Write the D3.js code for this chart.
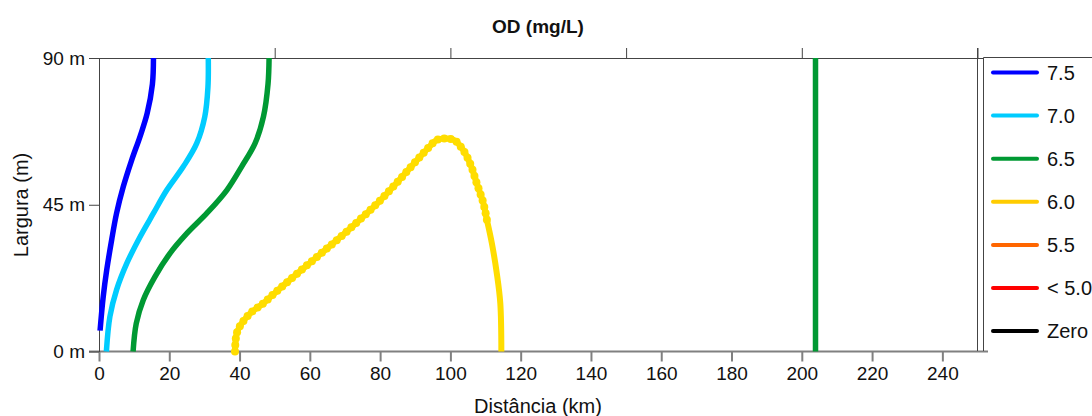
<!DOCTYPE html>
<html>
<head>
<meta charset="utf-8">
<script src="https://cdn.jsdelivr.net/npm/d3@7/dist/d3.min.js"></script>
<style>
  html, body { margin: 0; padding: 0; background: #fff; }
  svg { display: block; }
  text { font-family: "Liberation Sans", Arial, sans-serif; fill: #111; }
</style>
</head>
<body>
<svg id="chart" width="1092" height="416"></svg>
<script>
// Dissolved-oxygen isolines along the river: [distance km, width m]
const od75 = [[15.5,90],[15.2,82],[13.7,73],[11.7,66],[9.3,58.7],[6.9,50.5],[5.0,42.4],[3.6,34.2],[2.2,25.0],[1.2,16.8],[0.3,6.4]];
const od70 = [[31.1,90],[31.0,81],[30.1,72],[27.8,63.8],[24.0,56.7],[19.3,49.5],[15.5,42.4],[11.7,35.2],[7.9,27.0],[5.0,18.9],[3.1,10.7],[2.1,0]];
const od65 = [[48.4,90],[48.1,82],[46.8,72],[44.4,63.8],[40.6,56.7],[36.4,49.5],[30.7,42.4],[25.0,36.2],[20.2,30.1],[15.9,22.9],[12.6,15.8],[10.6,8.6],[9.7,0]];
const od65far = [[203.9,90],[203.9,0]];
const od60 = [[38.7,0],[39.2,5.6],[40.6,8.6],[43.0,11.7],[46.8,14.8],[50.6,18.5],[56.3,23.8],[62.9,29.8],[68.6,35.0],[74.3,40.5],[80.0,46.3],[84.8,51.8],[89.5,57.5],[94.2,63.0],[96.2,64.9],[100.9,64.9],[103.3,62.3],[105.6,57.7],[107.5,51.6],[109.4,45.4],[110.4,40.3]];
const od60tail = [[110.4,40.3],[111.8,33.2],[113.2,24.0],[114.2,14.8],[114.5,0]];

// Legend entries
const legendLabels = ["7.5", "7.0", "6.5", "6.0", "5.5", "< 5.0", "Zero"];
const legendColors = ["#0000ff", "#00ccff", "#009933", "#ffcc00", "#ff6600", "#ff0000", "#000000"];

// Axis ticks
const xTicks = d3.range(0, 241, 20);
const xTopTicks = [50, 100, 150, 200, 250];
const yTicks = [0, 45, 90];

const svg = d3.select("#chart");
const x = d3.scaleLinear().domain([0, 250]).range([99, 977.5]);
const y = d3.scaleLinear().domain([0, 90]).range([351.5, 58]);

const line = d3.line().x(d => x(d[0])).y(d => y(d[1])).curve(d3.curveCatmullRom.alpha(0.5));
const font = "Liberation Sans, Arial, sans-serif";

// Bottom axis
const gx = svg.append("g").attr("transform", "translate(0,351.5)")
  .call(d3.axisBottom(x).tickValues(xTicks).tickSize(10).tickSizeOuter(0).tickPadding(5));
gx.select(".domain").remove();
gx.selectAll(".tick line").attr("stroke", "#808080").attr("stroke-width", 2);
gx.selectAll(".tick text").attr("font-size", 19).attr("fill", "#111").attr("font-family", font);
svg.append("line").attr("x1", 89).attr("x2", 988).attr("y1", 351.5).attr("y2", 351.5)
  .attr("stroke", "#808080").attr("stroke-width", 2);

// Top axis (unlabelled)
const gt = svg.append("g").attr("transform", "translate(0,58)")
  .call(d3.axisTop(x).tickValues(xTopTicks).tickSize(10).tickFormat(""));
gt.select(".domain").remove();
gt.selectAll(".tick line").attr("stroke", "#444");
svg.append("line").attr("x1", 89).attr("x2", 984).attr("y1", 58.5).attr("y2", 58.5)
  .attr("stroke", "#444").attr("stroke-width", 1);

// Left axis
const gy = svg.append("g").attr("transform", "translate(99,0)")
  .call(d3.axisLeft(y).tickValues(yTicks).tickSize(10).tickSizeOuter(0).tickPadding(4)
    .tickFormat(d => d + " m"));
gy.select(".domain").remove();
gy.selectAll(".tick line").attr("stroke", "#444");
gy.selectAll(".tick text").attr("font-size", 19).attr("fill", "#111").attr("font-family", font);
svg.append("line").attr("x1", 99.5).attr("x2", 99.5).attr("y1", 58).attr("y2", 352)
  .attr("stroke", "#444").attr("stroke-width", 1);

// Right frame line
svg.append("line").attr("x1", 977.5).attr("x2", 977.5).attr("y1", 48).attr("y2", 351)
  .attr("stroke", "#444").attr("stroke-width", 1);

// Isolines
const curves = svg.append("g").attr("fill", "none").attr("stroke-width", 5.5);
curves.append("path").datum(od75).attr("d", line).attr("stroke", "#0000ff");
curves.append("path").datum(od70).attr("d", line).attr("stroke", "#00ccff");
curves.append("path").datum(od65).attr("d", line).attr("stroke", "#009933");
curves.append("path").datum(od65far).attr("d", d3.line().x(d => x(d[0])).y(d => y(d[1])))
  .attr("stroke", "#009933");
const yellow = "#ffdd00";
const beadPath = curves.append("path").datum(od60).attr("d", line).attr("stroke", yellow).attr("stroke-width", 6);
curves.append("path").datum(od60tail).attr("d", line).attr("stroke", yellow).attr("stroke-width", 6);

// Beaded look of the 6.0 isoline
const node = beadPath.node();
const total = node.getTotalLength();
const beads = d3.range(0, total, 6.5).map(l => node.getPointAtLength(l));
svg.append("g").selectAll("circle").data(beads).join("circle")
  .attr("cx", d => d.x).attr("cy", d => d.y).attr("r", 4).attr("fill", yellow);

// Legend
svg.append("path").attr("d", "M1092,57.5H983.5V351").attr("fill", "none")
  .attr("stroke", "#444").attr("stroke-width", 1);
const lg = svg.append("g").selectAll("g").data(legendLabels).join("g")
  .attr("transform", (d, i) => `translate(0,${72.5 + i * 43.1})`);
lg.append("line").attr("x1", 993).attr("x2", 1037).attr("y1", 0).attr("y2", 0)
  .attr("stroke", (d, i) => legendColors[i]).attr("stroke-width", 4).attr("stroke-linecap", "round");
lg.append("text").attr("x", 1047).attr("y", 7).attr("font-size", 20).text(d => d);

// Titles
svg.append("text").attr("x", 538).attr("y", 33).attr("text-anchor", "middle")
  .attr("font-size", 19).attr("font-weight", "bold").text("OD (mg/L)");
svg.append("text").attr("x", 538).attr("y", 413).attr("text-anchor", "middle")
  .attr("font-size", 20).text("Distância (km)");
svg.append("text").attr("transform", "translate(28,205) rotate(-90)").attr("text-anchor", "middle")
  .attr("font-size", 20).text("Largura (m)");
</script>
</body>
</html>
